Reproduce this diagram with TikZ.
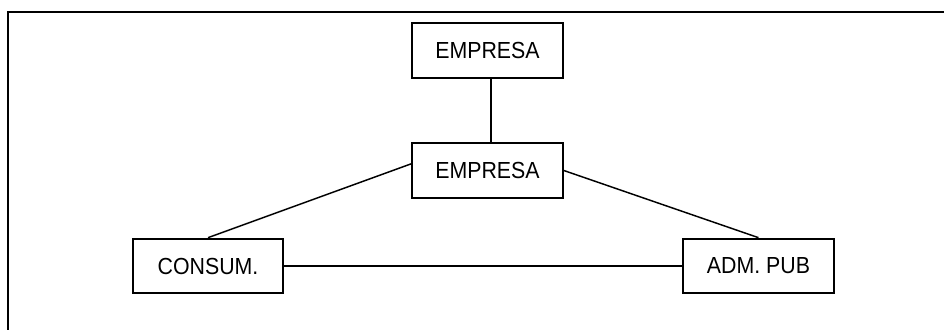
\documentclass[tikz,border=0pt]{standalone}
\usepackage{fontspec}
\setmainfont{Liberation Sans}
\usepackage{graphicx}
\usepackage{tikz}
\newcommand{\boxtext}[1]{\scalebox{1}[1.09]{#1}}

\begin{document}
\begin{tikzpicture}[x=0.75pt,y=-0.75pt,line width=1.1pt,
  box/.style={rectangle,draw,line width=1.5pt,minimum width=113pt,minimum height=41pt,inner sep=0pt,font=\fontsize{16}{19}\selectfont}]
  \useasboundingbox (0,0) rectangle (944,329);
  \clip (0,0) rectangle (944,329);
  \draw[line width=1.6pt] (8,12) rectangle (960,345);
  \node[box] (emp1) at (487.5,50.5) {\boxtext{EMPRESA}};
  \node[box] (emp2) at (487.5,170.5) {\boxtext{EMPRESA}};
  \node[box] (cons) at (208,266) {\boxtext{CONSUM.}};
  \node[box] (adm) at (758.5,266) {\boxtext{ADM. PUB}};
  \draw ([xshift=2.6pt]emp1.south) -- ([xshift=2.6pt]emp2.north);
  \draw (cons.north) -- (emp2.175);
  \draw (emp2.east) -- (adm.north);
  \draw (cons) -- (adm);
\end{tikzpicture}
\end{document}
